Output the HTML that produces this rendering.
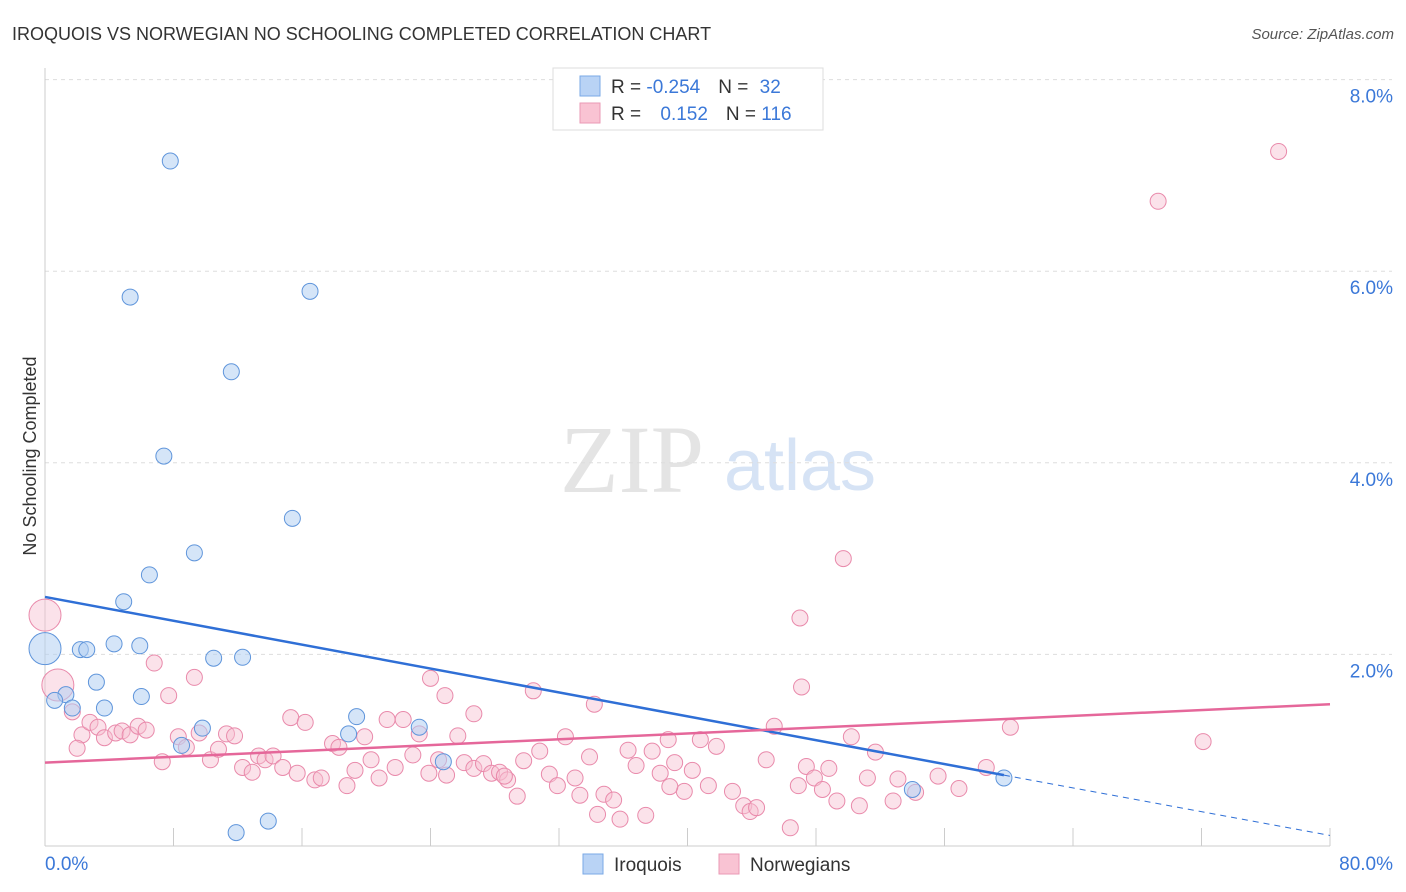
<!DOCTYPE html>
<html><head><meta charset="utf-8"><style>
body{margin:0;background:#fff;font-family:"Liberation Sans",sans-serif;}
svg{display:block}
</style></head><body>
<svg id="chart" width="1406" height="892" xmlns="http://www.w3.org/2000/svg">
<text x="12" y="40" font-size="18" fill="#333">IROQUOIS VS NORWEGIAN NO SCHOOLING COMPLETED CORRELATION CHART</text>
<text x="1394" y="39" font-size="15" fill="#555" text-anchor="end" font-style="italic">Source: ZipAtlas.com</text>
<text x="632" y="492" font-size="96" fill="#e4e4e4" font-family="Liberation Serif,serif" text-anchor="middle">ZIP</text>
<text x="800" y="490" font-size="72" fill="#d6e3f5" text-anchor="middle">atlas</text>
<g id="grid"></g>
<g id="axes"></g>
<g id="pts"></g>
<g id="trend"></g>
<text x="36" y="456" font-size="18" fill="#333" text-anchor="middle" transform="rotate(-90 36 456)">No Schooling Completed</text>
<g>
<rect x="553" y="68" width="270" height="62" fill="#fff" stroke="#ddd"/>
<rect x="580" y="76" width="20" height="20" fill="#b9d3f5" stroke="#7aa8e6"/>
<rect x="580" y="103" width="20" height="20" fill="#f9c3d3" stroke="#ea9ab5"/>
<text x="611" y="93" font-size="19" fill="#333">R = <tspan fill="#3b78d8">-0.254</tspan><tspan dx="18">N = </tspan><tspan fill="#3b78d8" dx="6">32</tspan></text>
<text x="611" y="120" font-size="19" fill="#333">R = <tspan fill="#3b78d8" dx="14">0.152</tspan><tspan dx="18">N = </tspan><tspan fill="#3b78d8">116</tspan></text>
</g>
<g>
<rect x="583" y="854" width="20" height="20" fill="#b9d3f5" stroke="#7aa8e6"/>
<text x="614" y="871" font-size="19" fill="#333">Iroquois</text>
<rect x="719" y="854" width="20" height="20" fill="#f9c3d3" stroke="#ea9ab5"/>
<text x="750" y="871" font-size="19" fill="#333">Norwegians</text>
</g>
</svg>
<script>
const yTicks=[2,4,6,8];
const xTickLabels=["0.0%","80.0%"];
const iroquoisX=[7.8,5.3,16.5,11.6,7.4,15.4,9.3,6.5,4.9,0,2.2,2.6,4.3,5.9,10.5,12.3,3.2,6.0,1.3,0.6,1.7,3.7,9.8,8.5,19.4,18.9,23.3,24.8,11.9,13.9,54.0,59.7];
const iroquoisY=[7.15,5.73,5.79,4.95,4.07,3.42,3.06,2.83,2.55,2.06,2.05,2.05,2.11,2.09,1.96,1.97,1.71,1.56,1.58,1.52,1.44,1.44,1.23,1.05,1.35,1.17,1.24,0.88,0.14,0.26,0.59,0.71];
const norX=[76.8,69.3,49.7,47.0,47.1,0,0.8,6.8,9.3,7.7,24.0,24.9,30.4,34.2,26.7,72.1,1.7,2.3,2.8,3.3,3.7,4.4,4.8,5.3,5.8,6.3,7.3,8.3,8.8,9.6,10.3,10.8,11.3,11.8,12.3,12.9,13.3,13.7,14.2,14.8,15.3,15.7,16.2,16.8,17.2,17.9,18.3,18.8,19.3,19.9,20.3,20.8,21.3,21.8,22.3,22.9,23.3,23.9,24.5,25.0,25.7,26.1,26.7,27.3,27.8,28.3,28.8,29.4,29.8,30.8,31.4,31.9,32.4,33.0,33.3,33.9,34.4,34.8,35.4,35.8,36.3,36.8,37.4,37.8,38.3,38.8,39.2,39.8,40.3,40.8,41.3,41.8,42.8,43.5,43.9,44.3,44.9,45.4,46.4,46.9,47.4,47.9,48.4,48.8,49.3,50.2,50.7,51.2,51.7,52.8,53.1,54.2,55.6,56.9,58.6,60.1,2.0,28.6,38.9];
const norY=[7.25,6.73,3.0,2.38,1.66,2.41,1.68,1.91,1.76,1.57,1.75,1.57,1.62,1.48,1.38,1.09,1.4,1.16,1.29,1.24,1.13,1.18,1.2,1.16,1.25,1.21,0.88,1.14,1.03,1.18,0.9,1.01,1.17,1.15,0.82,0.77,0.94,0.9,0.94,0.82,1.34,0.76,1.29,0.69,0.71,1.07,1.03,0.63,0.79,1.14,0.9,0.71,1.32,0.82,1.32,0.95,1.17,0.76,0.9,0.74,1.15,0.87,0.81,0.86,0.76,0.77,0.69,0.52,0.89,0.99,0.75,0.63,1.14,0.71,0.53,0.93,0.33,0.54,0.48,0.28,1.0,0.84,0.32,0.99,0.76,1.11,0.87,0.57,0.79,1.11,0.63,1.04,0.57,0.42,0.36,0.4,0.9,1.25,0.19,0.63,0.83,0.71,0.59,0.81,0.47,1.14,0.42,0.71,0.98,0.47,0.7,0.56,0.73,0.6,0.82,1.24,1.02,0.73,0.62,0.45,0.72,0.65];
const X=v=>45+v/80*1285, Y=v=>846-v*95.8;
const NS="http://www.w3.org/2000/svg";
function mk(tag,attrs,parent){const e=document.createElementNS(NS,tag);for(const k in attrs)e.setAttribute(k,attrs[k]);parent.appendChild(e);return e;}
const grid=document.getElementById('grid'),axes=document.getElementById('axes'),pts=document.getElementById('pts'),tr=document.getElementById('trend');
yTicks.forEach(t=>{
  const l=mk('line',{x1:45,x2:1392,y1:Y(t),y2:Y(t),stroke:'#ddd','stroke-dasharray':'4,4'},grid);
  
  
  const tx=mk('text',{x:1393,y:Y(t)+23,'font-size':19,fill:'#3b78d8','text-anchor':'end'},axes);
  tx.textContent=t.toFixed(1)+'%';
  
  
});
mk('line',{x1:45,x2:45,y1:68,y2:846,stroke:'#ccc'},axes);
mk('line',{x1:45,x2:1330,y1:846,y2:846,stroke:'#ccc'},axes);
for(let i=0;i<=10;i++){mk('line',{x1:X(i*8),x2:X(i*8),y1:828,y2:846,stroke:'#ccc'},axes);}
const xl0=mk('text',{x:45,y:870,'font-size':19,fill:'#3b78d8'},axes);xl0.textContent=xTickLabels[0];


const xl1=mk('text',{x:1393,y:870,'font-size':19,fill:'#3b78d8','text-anchor':'end'},axes);xl1.textContent=xTickLabels[1];


norX.forEach((x,i)=>{
  const big=(i===5||i===6);
  const c=mk('circle',{cx:X(x),cy:Y(norY[i]),r:big?16:8,fill:'#f7bfd0','fill-opacity':0.45,stroke:'#e98aab','stroke-width':1},pts);
  
  
});
iroquoisX.forEach((x,i)=>{
  const c=mk('circle',{cx:X(x),cy:Y(iroquoisY[i]),r:i===9?16:8,fill:'#b3cff3','fill-opacity':0.55,stroke:'#5f95db','stroke-width':1},pts);
  
  
});
const bl=mk('line',{x1:X(0),y1:Y(2.6),x2:X(59.7),y2:Y(0.74),stroke:'#2f6fd6','stroke-width':2.5},tr);


const bd=mk('line',{x1:X(59.7),y1:Y(0.74),x2:X(80),y2:Y(0.11),stroke:'#2f6fd6','stroke-width':1,'stroke-dasharray':'6,5'},tr);


const pl=mk('line',{x1:X(0),y1:Y(0.87),x2:X(80),y2:Y(1.48),stroke:'#e5679a','stroke-width':2.5},tr);


</script>
</body></html>
